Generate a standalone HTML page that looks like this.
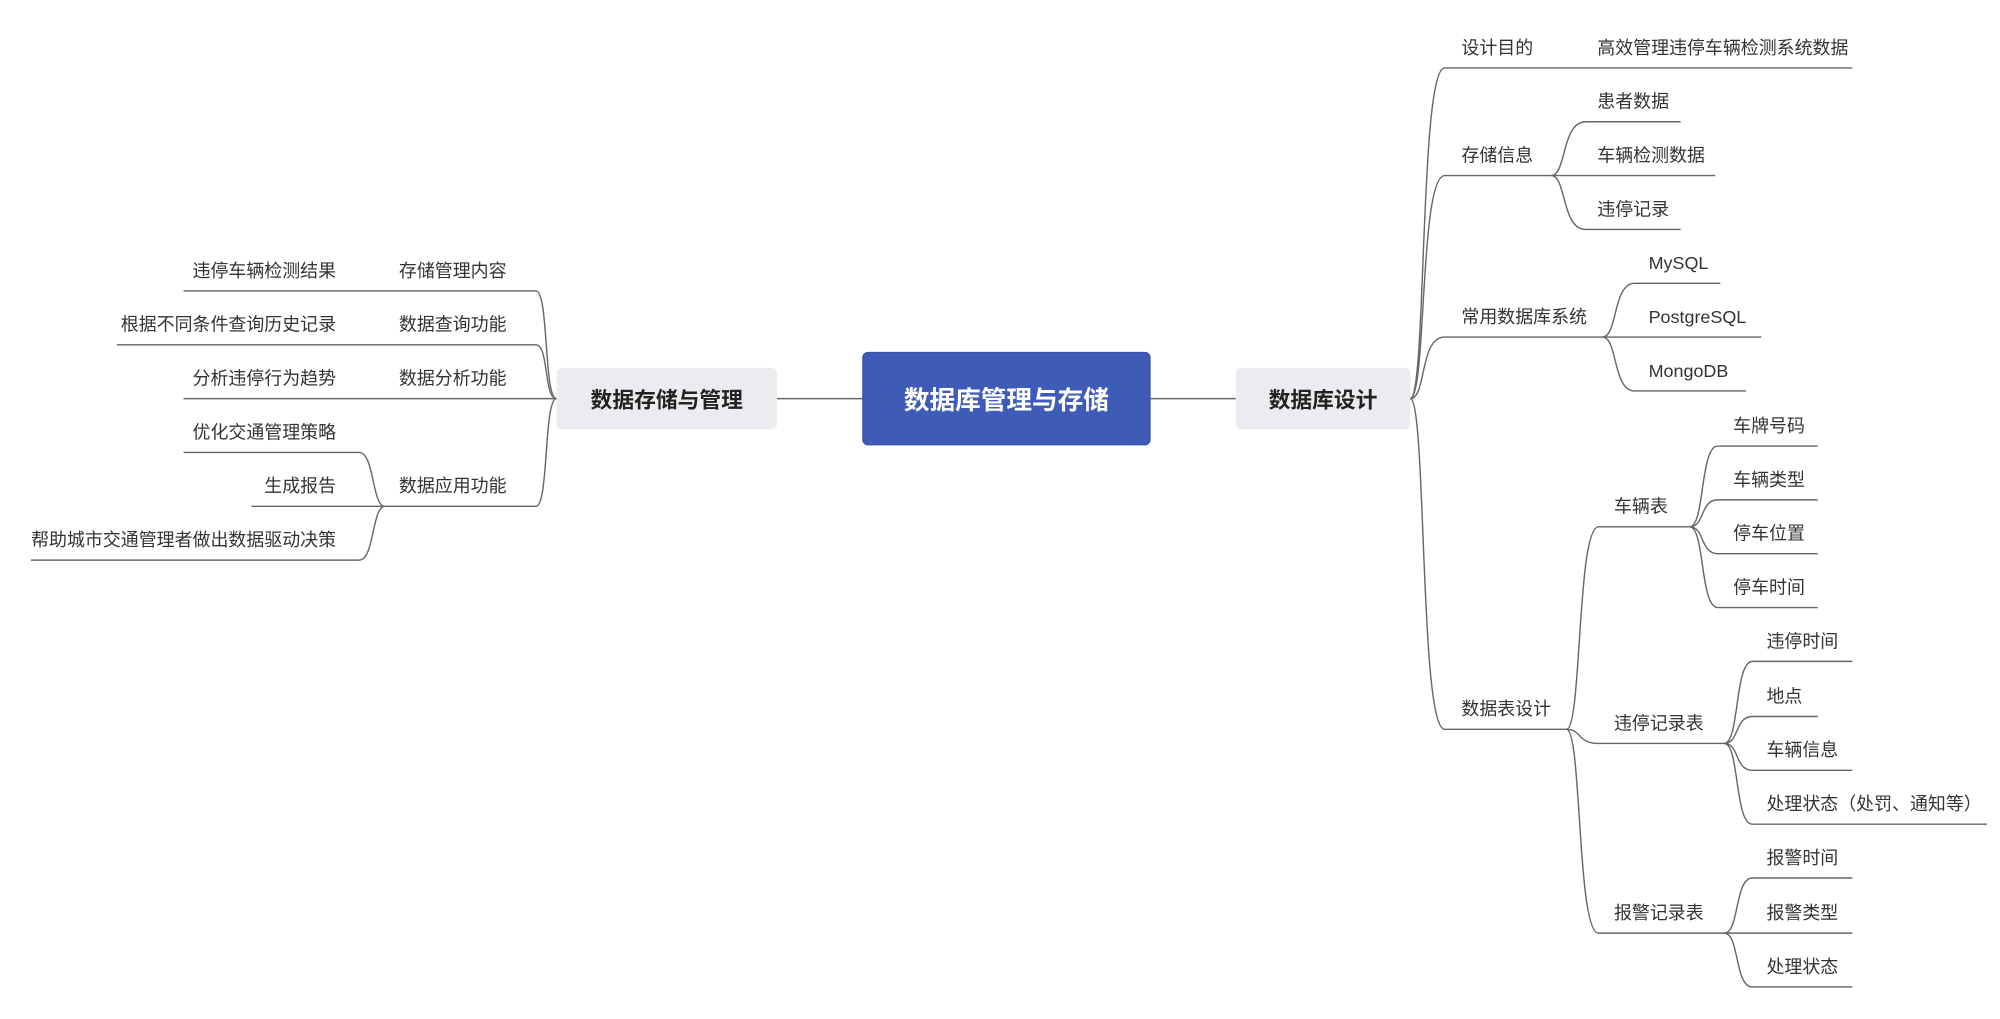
<!DOCTYPE html>
<html><head><meta charset="utf-8"><style>
html,body{margin:0;padding:0;background:#fff;}
svg{display:block}
text{font-family:"Liberation Sans","Noto Sans CJK SC",sans-serif;fill:#333;font-size:14px}
</style></head><body>
<svg width="2000" height="1019" viewBox="0 0 1560 795" xmlns="http://www.w3.org/2000/svg">
<g fill="none" stroke="#666" stroke-width="1.1">
<path d="M606 311 L673 311"/><path d="M897 311 L964 311"/>
<path d="M1100 311 C1113 311 1107 53 1127 53 L1445 53"/>
<path d="M1100 311 C1113 311 1107 137 1127 137 L1210 137"/>
<path d="M1100 311 C1113 311 1107 263 1127 263 L1250 263"/>
<path d="M1100 311 C1113 311 1107 569 1127 569 L1222 569"/>
<path d="M1210 137 C1222 137 1218 95 1237 95 L1311 95"/>
<path d="M1210 137 L1338 137"/>
<path d="M1210 137 C1222 137 1218 179 1237 179 L1311 179"/>
<path d="M1250 263 C1262 263 1258 221 1275 221 L1342 221"/>
<path d="M1250 263 L1374 263"/>
<path d="M1250 263 C1262 263 1258 305 1275 305 L1362 305"/>
<path d="M1222 569 C1234 569 1230 411 1247 411 L1318 411"/>
<path d="M1222 569 C1234 569 1230 580 1247 580 L1345 580"/>
<path d="M1222 569 C1234 569 1230 728 1247 728 L1345 728"/>
<path d="M1318 411 C1330 411 1326 348 1340 348 L1418 348"/>
<path d="M1318 411 C1330 411 1326 390 1340 390 L1418 390"/>
<path d="M1318 411 C1330 411 1326 432 1340 432 L1418 432"/>
<path d="M1318 411 C1330 411 1326 474 1340 474 L1418 474"/>
<path d="M1345 580 C1357 580 1353 516 1367 516 L1445 516"/>
<path d="M1345 580 C1357 580 1353 559 1367 559 L1418 559"/>
<path d="M1345 580 C1357 580 1353 601 1367 601 L1445 601"/>
<path d="M1345 580 C1357 580 1353 643 1367 643 L1550 643"/>
<path d="M1345 728 C1357 728 1353 685 1367 685 L1445 685"/>
<path d="M1345 728 L1445 728"/>
<path d="M1345 728 C1357 728 1353 770 1367 770 L1445 770"/>
<path d="M434 311 C424 311 428 227 418 227 L143 227"/>
<path d="M434 311 C424 311 428 269 418 269 L91 269"/>
<path d="M434 311 L143 311"/>
<path d="M434 311 C424 311 428 395 418 395 L300 395"/>
<path d="M300 395 C290 395 292 353 280 353 L143 353"/>
<path d="M300 395 L196 395"/>
<path d="M300 395 C290 395 292 437 280 437 L24 437"/>
</g>
<rect x="673" y="275" width="224" height="72" rx="4" fill="#3f5bb8" stroke="#3550aa"/>
<text x="785" y="319" text-anchor="middle" style="fill:#fff;font-size:20px;font-weight:bold">数据库管理与存储</text>
<rect x="964" y="287" width="136" height="48" rx="4" fill="#ebecf0"/>
<text x="1032" y="318" text-anchor="middle" style="font-size:17px;font-weight:bold;fill:#222">数据库设计</text>
<rect x="434" y="287" width="172" height="48" rx="4" fill="#ebecf0"/>
<text x="520" y="318" text-anchor="middle" style="font-size:17px;font-weight:bold;fill:#222">数据存储与管理</text>
<g>
<text x="1140" y="42">设计目的</text>
<text x="1246" y="42">高效管理违停车辆检测系统数据</text>
<text x="1140" y="126">存储信息</text>
<text x="1246" y="84">患者数据</text>
<text x="1246" y="126">车辆检测数据</text>
<text x="1246" y="168">违停记录</text>
<text x="1140" y="252">常用数据库系统</text>
<text x="1286" y="210">MySQL</text>
<text x="1286" y="252">PostgreSQL</text>
<text x="1286" y="294">MongoDB</text>
<text x="1140" y="558">数据表设计</text>
<text x="1259" y="400">车辆表</text>
<text x="1352" y="337">车牌号码</text>
<text x="1352" y="379">车辆类型</text>
<text x="1352" y="421">停车位置</text>
<text x="1352" y="463">停车时间</text>
<text x="1259" y="569">违停记录表</text>
<text x="1378" y="505">违停时间</text>
<text x="1378" y="548">地点</text>
<text x="1378" y="590">车辆信息</text>
<text x="1378" y="632">处理状态（处罚、通知等）</text>
<text x="1259" y="717">报警记录表</text>
<text x="1378" y="674">报警时间</text>
<text x="1378" y="717">报警类型</text>
<text x="1378" y="759">处理状态</text>
</g>
<g text-anchor="end">
<text x="395" y="216">存储管理内容</text>
<text x="262" y="216">违停车辆检测结果</text>
<text x="395" y="258">数据查询功能</text>
<text x="262" y="258">根据不同条件查询历史记录</text>
<text x="395" y="300">数据分析功能</text>
<text x="262" y="300">分析违停行为趋势</text>
<text x="395" y="384">数据应用功能</text>
<text x="262" y="342">优化交通管理策略</text>
<text x="262" y="384">生成报告</text>
<text x="262" y="426">帮助城市交通管理者做出数据驱动决策</text>
</g>
</svg>
</body></html>
